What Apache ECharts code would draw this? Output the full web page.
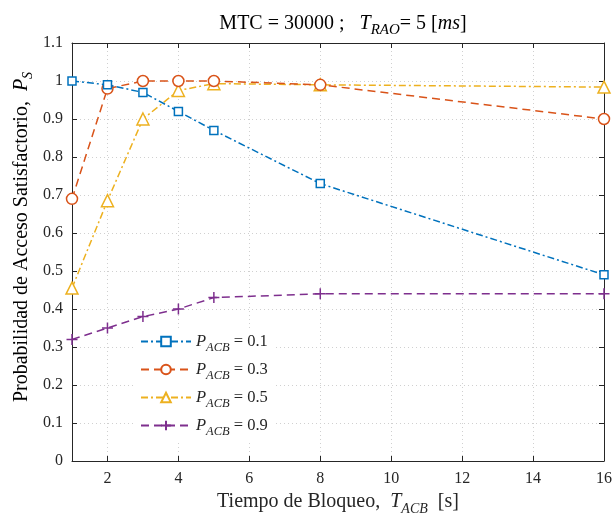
<!DOCTYPE html>
<html>
<head>
<meta charset="utf-8">
<script src="https://cdn.jsdelivr.net/npm/echarts@6/dist/echarts.min.js"></script>
<style>html,body{margin:0;padding:0;background:#fff}#c{width:613px;height:516px}</style>
</head>
<body>
<div id="c"></div>
<script>
const xValues = [1, 2, 3, 4, 5, 8, 16];
const pacb01 = [1.0, 0.99, 0.97, 0.92, 0.87, 0.73, 0.49];
const pacb03 = [0.69, 0.98, 1.0, 1.0, 1.0, 0.99, 0.90];
const pacb05 = [0.455, 0.685, 0.90, 0.975, 0.993, 0.99, 0.984];
const pacb09 = [0.32, 0.35, 0.38, 0.40, 0.43, 0.44, 0.44];
const seriesLabels = ['0.1', '0.3', '0.5', '0.9'];
const xTicks = [2, 4, 6, 8, 10, 12, 14, 16];

const FONT = 'Liberation Serif';
const TXT = '#262626';
const colors = ['#0072BD', '#D95319', '#EDB120', '#7E2F8E'];
const dataSets = [pacb01, pacb03, pacb05, pacb09];
const symbols = ['rect', 'circle', 'triangle', 'path://M5,0 L5,10 M0,5 L10,5'];
const symbolSizes = [8, 11, 12, 11];
const dashes = [[7, 3, 2, 3], [8, 5], [7, 3, 2, 3], [8, 5]];

function pairs(ys) { return xValues.map((x, i) => [x, ys[i]]); }

const series = dataSets.map((d, k) => ({
  name: seriesLabels[k],
  type: 'line',
  data: pairs(d),
  xAxisIndex: 0, yAxisIndex: 0,
  symbol: symbols[k],
  symbolSize: symbolSizes[k],
  showAllSymbol: true,
  color: colors[k],
  lineStyle: { color: colors[k], width: 1.5, type: dashes[k] },
  itemStyle: { color: k === 3 ? colors[k] : '#fff', borderColor: colors[k], borderWidth: 1.5 },
  emphasis: { disabled: true },
  animation: false,
  z: 5 - k
}));

function mkRich(size, subSize, subPad, color) {
  return {
    n: { fontFamily: FONT, fontSize: size, color: color },
    i: { fontFamily: FONT, fontSize: size, fontStyle: 'italic', color: color },
    s: { fontFamily: FONT, fontSize: subSize, fontStyle: 'italic', color: color, padding: [subPad, 0, 0, 0] }
  };
}

const baseX = {
  type: 'value', min: 1, max: 16,
  axisLine: { show: true, onZero: false, lineStyle: { color: '#262626', width: 1 } },
  axisTick: { show: true, inside: true, length: 5, customValues: xTicks, lineStyle: { color: '#262626' } },
  splitLine: { show: false }
};
const baseY = {
  type: 'value', min: 0, max: 1.1, interval: 0.1,
  axisLine: { show: true, lineStyle: { color: '#262626', width: 1 } },
  axisTick: { show: true, inside: true, length: 5, lineStyle: { color: '#262626' } },
  splitLine: { show: false }
};

const option = {
  backgroundColor: '#fff',
  animation: false,
  title: {
    text: '{n|MTC = 30000 ;   }{i|T}{s|RAO}{n|= 5 [}{i|ms}{n|]}',
    left: 338, top: 4, textAlign: 'center',
    textStyle: { fontWeight: 'normal', rich: mkRich(20, 15, 14, '#000') }
  },
  grid: { left: 72, right: 9, top: 43, bottom: 55, containLabel: false, outerBoundsMode: 'none' },
  legend: {
    left: 136, top: 329, orient: 'vertical',
    itemWidth: 50, itemHeight: 12, itemGap: 7,
    padding: [4, 8, 4, 4],
    backgroundColor: '#fff',
    data: seriesLabels,
    formatter: function (name) { return '{i|P}{s|ACB}{n| = ' + name + '}'; },
    textStyle: { rich: mkRich(16.5, 12.5, 12, TXT) }
  },
  graphic: [{
    type: 'text',
    x: 22, y: 237,
    rotation: Math.PI / 2,
    style: {
      text: '{n|Probabilidad de Acceso Satisfactorio,  }{i|P}{s|S}',
      rich: mkRich(20, 14, 13, TXT),
      align: 'center', verticalAlign: 'middle'
    },
    z: 10
  }],
  xAxis: [
    Object.assign({}, baseX, {
      position: 'bottom',
      axisLabel: { show: true, customValues: xTicks, fontFamily: FONT, fontSize: 16, color: TXT, margin: 10 },
      splitLine: { show: true, lineStyle: { color: '#d0d0d0', type: [1, 3], width: 1 } },
      name: '{n|Tiempo de Bloqueo,  }{i|T}{s|ACB}{n|  [s]}',
      nameLocation: 'middle', nameGap: 24,
      nameTextStyle: { rich: mkRich(20, 14, 15, TXT) }
    }),
    Object.assign({}, baseX, { position: 'top', axisLabel: { show: false } })
  ],
  yAxis: [
    Object.assign({}, baseY, {
      position: 'left',
      axisLabel: { fontFamily: FONT, fontSize: 16, color: TXT, margin: 9,
        formatter: v => String(Math.round(v * 10) / 10) },
      splitLine: { show: true, lineStyle: { color: '#d0d0d0', type: [1, 3], width: 1 } }
    }),
    Object.assign({}, baseY, { position: 'right', axisLabel: { show: false } })
  ],
  series: series
};

const chart = echarts.init(document.getElementById('c'), null, { renderer: 'canvas' });
chart.setOption(option);
</script>
</body>
</html>
